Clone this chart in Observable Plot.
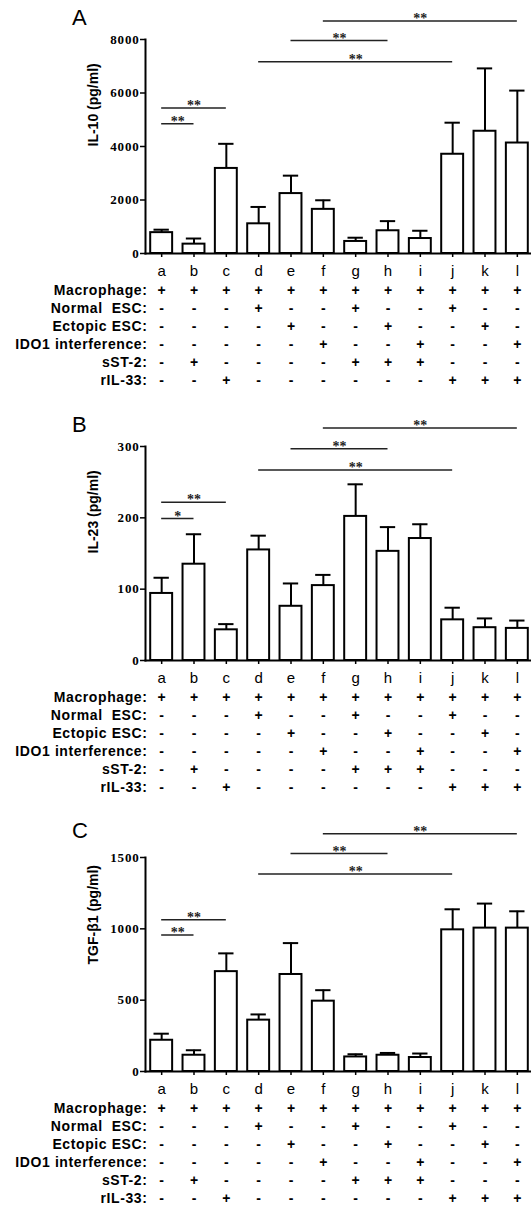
<!DOCTYPE html>
<html><head><meta charset="utf-8">
<script src="https://cdn.jsdelivr.net/npm/d3@7"></script>
<script src="https://cdn.jsdelivr.net/npm/@observablehq/plot@0.6"></script>
<style>
html,body{margin:0;padding:0;background:#fff;}
#wrap{position:relative;width:531px;height:1208px;overflow:hidden;background:#fff;}
.panel{position:absolute;left:0;width:531px;}
.tag{position:absolute;left:72px;font:22px "Liberation Sans",Arial,sans-serif;line-height:22px;color:#000;}
svg{display:block;overflow:visible;}
.bars g[aria-label="y-axis tick label"] text{letter-spacing:0.8px;}
.table g[aria-label="y-axis tick label"] text{letter-spacing:0.6px;}
</style></head><body><div id="wrap"></div>
<script>
// ---- data ----
const groups = ["a","b","c","d","e","f","g","h","i","j","k","l"];

const il10Mean = [780, 350, 3180, 1110, 2240, 1650, 450, 850, 560, 3710, 4570, 4130];
const il10Sd   = [110, 210,  920,  630,  670,  340, 140, 360, 290, 1180, 2350, 1960];
const il10Ticks = [0, 2000, 4000, 6000, 8000];

const il23Mean = [94, 135, 43, 155, 76, 105, 202, 153, 171, 57, 46, 45];
const il23Sd   = [22,  42,  8,  20, 32,  15,  45,  34,  20, 17, 13, 11];
const il23Ticks = [0, 100, 200, 300];

const tgfMean = [219, 114, 700, 360, 680, 493, 102, 114,  98,  993, 1005, 1005];
const tgfSd   = [ 46,  35, 128,  40, 220,  77,  19,  16,  28,  144,  172,  118];
const tgfTicks = [0, 500, 1000, 1500];

const comparisons = [["a","b"], ["a","c"], ["d","j"], ["e","h"], ["f","l"]];
const il10SigY = [4850, 5435, 7164, 7960, 8694];
const il10SigLabel = ["**", "**", "**", "**", "**"];
const il23SigY = [199, 222, 267, 297, 326];
const il23SigLabel = ["*", "**", "**", "**", "**"];
const tgfSigY = [956, 1063, 1384, 1528, 1667];
const tgfSigLabel = ["**", "**", "**", "**", "**"];

const conditions = ["Macrophage", "Normal\u00a0 ESC", "Ectopic ESC", "IDO1 interference", "sST-2", "rIL-33"];
const macrophage   = ["+","+","+","+","+","+","+","+","+","+","+","+"];
const normalEsc    = ["-","-","-","+","-","-","+","-","-","+","-","-"];
const ectopicEsc   = ["-","-","-","-","+","-","-","+","-","-","+","-"];
const ido1Interf   = ["-","-","-","-","-","+","-","-","+","-","-","+"];
const sst2         = ["-","+","-","-","-","-","+","+","+","-","-","-"];
const ril33        = ["-","-","+","-","-","-","-","-","-","+","+","+"];
const tableRows = [macrophage, normalEsc, ectopicEsc, ido1Interf, sst2, ril33];

// ---- layout ----
const panels = [
  {tag:"A", title:"IL-10 (pg/ml)", mean:il10Mean, sd:il10Sd, ticks:il10Ticks, sigY:il10SigY, sigLabel:il10SigLabel, top:0, tagTop:7},
  {tag:"B", title:"IL-23 (pg/ml)", mean:il23Mean, sd:il23Sd, ticks:il23Ticks, sigY:il23SigY, sigLabel:il23SigLabel, top:406.7, tagTop:7},
  {tag:"C", title:"TGF-\u03b21 (pg/ml)", mean:tgfMean, sd:tgfSd, ticks:tgfTicks, sigY:tgfSigY, sigLabel:tgfSigLabel, top:818.3, tagTop:1.5}
];

const W = 531, ML = 145, BAR_H = 279;
const xScale = {domain:[-0.5, groups.length - 0.5], range:[ML, 533]};
const sans = "'Liberation Sans', Arial, sans-serif";
const serif = "'Liberation Serif', 'Times New Roman', serif";

function barPlot(p) {
  const rows = groups.map((g, i) => ({g, i, mean:p.mean[i], hi:p.mean[i] + p.sd[i]}));
  const sig = comparisons.map(([a, b], k) => ({i1:groups.indexOf(a), i2:groups.indexOf(b), y:p.sigY[k], label:p.sigLabel[k]}));
  return Plot.plot({
    width:W, height:BAR_H, marginTop:39, marginBottom:26, marginLeft:ML, marginRight:0,
    x:xScale,
    y:{domain:[0, d3.max(p.ticks)]},
    style:{fontFamily:sans, color:"#000", background:"transparent"},
    marks:[
      Plot.ruleX(rows, {x:"i", y1:"mean", y2:"hi", stroke:"#000", strokeWidth:2}),
      Plot.ruleY(rows, {x1:d => d.i - 0.5, x2:d => d.i + 0.5, y:"hi", insetLeft:8.5, insetRight:8.5, stroke:"#000", strokeWidth:2}),
      Plot.rectY(rows, {x1:d => d.i - 0.5, x2:d => d.i + 0.5, y1:0, y2:"mean", insetLeft:5.2, insetRight:5.2, fill:"#fff", stroke:"#000", strokeWidth:2}),
      Plot.ruleY(sig, {x1:"i1", x2:"i2", y:"y", stroke:"#222", strokeWidth:1.5}),
      Plot.text(sig, {x:d => (d.i1 + d.i2) / 2, y:"y", text:"label", lineAnchor:"bottom", dy:2, fontSize:14, fontWeight:"bold", fontFamily:serif, fill:"#222"}),
      Plot.axisY({ticks:p.ticks, tickSize:5, tickPadding:1, tickFormat:d3.format("d"), label:null, fontFamily:serif, fontWeight:"bold", fontSize:13, strokeWidth:1.5}),
      Plot.axisX({ticks:d3.range(groups.length), tickFormat:i => groups[i], tickSize:4, tickPadding:8, label:null, fontSize:15, strokeWidth:1.5}),
      Plot.frame({anchor:"left", strokeWidth:2}),
      Plot.frame({anchor:"bottom", strokeWidth:2}),
      Plot.text([p.title], {frameAnchor:"left", rotate:-90, dx:-52, fontSize:14, fontWeight:"bold", fill:"#000"})
    ]
  });
}

function tablePlot() {
  const cells = conditions.flatMap((c, r) => tableRows[r].map((v, i) => ({c, i, v})));
  return Plot.plot({
    width:W, height:111, marginTop:1, marginBottom:0, marginLeft:ML, marginRight:0,
    x:{...xScale, axis:null},
    y:{type:"band", domain:conditions},
    style:{fontFamily:sans, color:"#000", background:"transparent"},
    marks:[
      Plot.text(cells, {x:"i", y:"c", text:"v", fontSize:14, fontWeight:"bold", fill:"#000"}),
      Plot.axisY({tickSize:0, tickPadding:0, dx:2, tickFormat:d => d + ":", label:null, fontSize:14, fontWeight:"bold"})
    ]
  });
}

const wrap = document.getElementById("wrap");
for (const p of panels) {
  const div = document.createElement("div");
  div.className = "panel";
  div.style.top = p.top + "px";
  const tag = document.createElement("div");
  tag.className = "tag";
  tag.style.top = p.tagTop + "px";
  tag.textContent = p.tag;
  const bars = document.createElement("div");
  bars.className = "bars";
  bars.appendChild(barPlot(p));
  const table = document.createElement("div");
  table.className = "table";
  table.appendChild(tablePlot());
  div.appendChild(bars);
  div.appendChild(table);
  div.appendChild(tag);
  wrap.appendChild(div);
}
</script></body></html>
